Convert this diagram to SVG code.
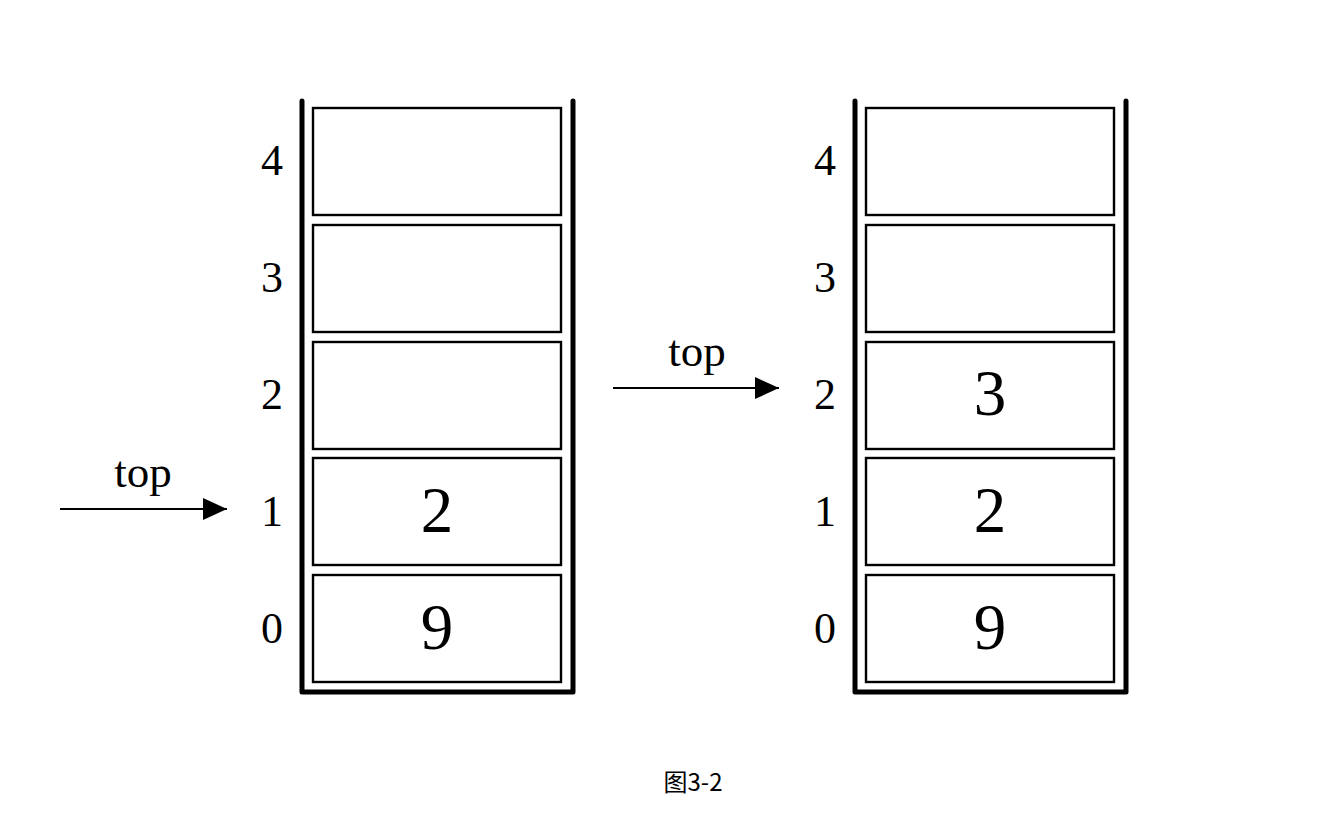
<svg xmlns="http://www.w3.org/2000/svg" width="1337" height="828" viewBox="0 0 1337 828">
<style>
.wall{fill:none;stroke:#000;stroke-width:5;stroke-linecap:round;stroke-linejoin:round}
.cell{fill:#fff;stroke:#000;stroke-width:2.4}
.idx{font-family:"Liberation Serif",serif;font-size:44px;text-anchor:middle;fill:#000}
.val{font-family:"Liberation Serif",serif;font-size:65px;text-anchor:middle;fill:#000}
.lbl{font-family:"Liberation Serif",serif;font-size:45px;text-anchor:middle;fill:#000}
.arr{stroke:#000;stroke-width:2}
.cap{font-family:"Noto Sans CJK SC","Noto Sans",sans-serif;font-size:24px;text-anchor:middle;fill:#000}
</style>
<defs>
<marker id="ah" markerWidth="24" markerHeight="22" refX="24" refY="11" orient="auto" markerUnits="userSpaceOnUse" viewBox="0 0 24 22">
<path d="M0,0 L24,11 L0,22 z" fill="#000"/>
</marker>
</defs>
<rect width="1337" height="828" fill="#fff"/>
<g id="stackA">
<path class="wall" d="M302,101 L302,692 L573,692 L573,101"/>
<g id="a4"><rect class="cell" x="313" y="108" width="248" height="107"/><text class="idx" x="272" y="175">4</text></g>
<g id="a3"><rect class="cell" x="313" y="225" width="248" height="107"/><text class="idx" x="272" y="292">3</text></g>
<g id="a2"><rect class="cell" x="313" y="342" width="248" height="107"/><text class="idx" x="272" y="409">2</text></g>
<g id="a1"><rect class="cell" x="313" y="458" width="248" height="107"/><text class="idx" x="272" y="526">1</text><text class="val" x="437" y="532">2</text></g>
<g id="a0"><rect class="cell" x="313" y="575" width="248" height="107"/><text class="idx" x="272" y="643">0</text><text class="val" x="437" y="649">9</text></g>
</g>
<g id="stackB">
<path class="wall" d="M855,101 L855,692 L1126,692 L1126,101"/>
<g id="b4"><rect class="cell" x="866" y="108" width="248" height="107"/><text class="idx" x="825" y="175">4</text></g>
<g id="b3"><rect class="cell" x="866" y="225" width="248" height="107"/><text class="idx" x="825" y="292">3</text></g>
<g id="b2"><rect class="cell" x="866" y="342" width="248" height="107"/><text class="idx" x="825" y="409">2</text><text class="val" x="990" y="415">3</text></g>
<g id="b1"><rect class="cell" x="866" y="458" width="248" height="107"/><text class="idx" x="825" y="526">1</text><text class="val" x="990" y="532">2</text></g>
<g id="b0"><rect class="cell" x="866" y="575" width="248" height="107"/><text class="idx" x="825" y="643">0</text><text class="val" x="990" y="649">9</text></g>
</g>
<g id="connectors">
<line class="arr" x1="60" y1="509" x2="227" y2="509" marker-end="url(#ah)"/>
<text class="lbl" x="143" y="487">top</text>
<line class="arr" x1="613" y1="388" x2="779" y2="388" marker-end="url(#ah)"/>
<text class="lbl" x="697" y="366">top</text>
</g>
<text class="cap" x="693" y="791">图3-2</text>
</svg>
